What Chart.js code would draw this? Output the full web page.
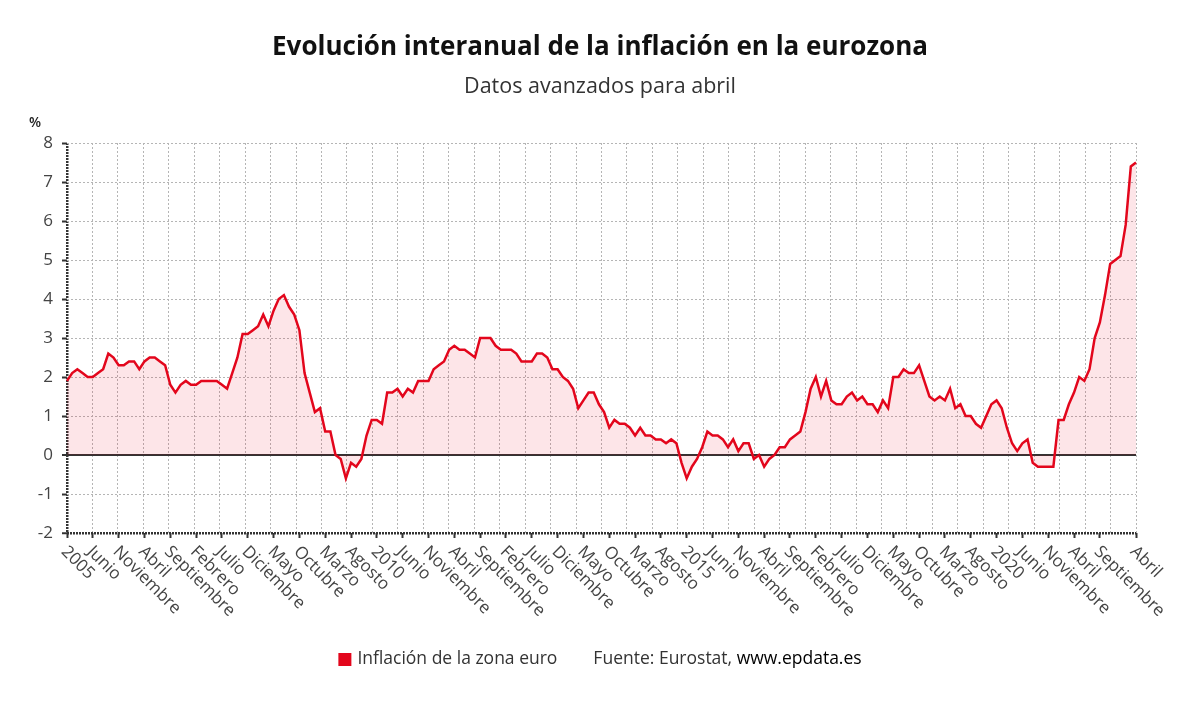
<!DOCTYPE html>
<html lang="es">
<head>
<meta charset="utf-8">
<title>Evolución interanual de la inflación en la eurozona</title>
<script src="https://cdn.jsdelivr.net/npm/chart.js@4.4.1/dist/chart.umd.min.js"></script>
<style>
  html, body { margin: 0; padding: 0; background: #fff; }
  #wrap { width: 1200px; height: 705px; position: relative; }
</style>
</head>
<body>
<div id="wrap"><canvas id="inflacion-chart"></canvas></div>
<script>

const years = [2005, 2006, 2007, 2008, 2009, 2010, 2011, 2012, 2013,
               2014, 2015, 2016, 2017, 2018, 2019, 2020, 2021, 2022]
const monthNames = ["Enero","Febrero","Marzo","Abril","Mayo","Junio","Julio",
                    "Agosto","Septiembre","Octubre","Noviembre","Diciembre"]

// % interanual, enero 2005 - abril 2022 (dato avanzado)
const inflacion = [
    1.9, 2.1, 2.2, 2.1, 2.0, 2.0, 2.1, 2.2, 2.6, 2.5, 2.3, 2.3,   // 2005
    2.4, 2.4, 2.2, 2.4, 2.5, 2.5, 2.4, 2.3, 1.8, 1.6, 1.8, 1.9,   // 2006
    1.8, 1.8, 1.9, 1.9, 1.9, 1.9, 1.8, 1.7, 2.1, 2.5, 3.1, 3.1,   // 2007
    3.2, 3.3, 3.6, 3.3, 3.7, 4.0, 4.1, 3.8, 3.6, 3.2, 2.1, 1.6,   // 2008
    1.1, 1.2, 0.6, 0.6, 0.0, -0.1, -0.6, -0.2, -0.3, -0.1, 0.5, 0.9, // 2009
    0.9, 0.8, 1.6, 1.6, 1.7, 1.5, 1.7, 1.6, 1.9, 1.9, 1.9, 2.2,   // 2010
    2.3, 2.4, 2.7, 2.8, 2.7, 2.7, 2.6, 2.5, 3.0, 3.0, 3.0, 2.8,   // 2011
    2.7, 2.7, 2.7, 2.6, 2.4, 2.4, 2.4, 2.6, 2.6, 2.5, 2.2, 2.2,   // 2012
    2.0, 1.9, 1.7, 1.2, 1.4, 1.6, 1.6, 1.3, 1.1, 0.7, 0.9, 0.8,   // 2013
    0.8, 0.7, 0.5, 0.7, 0.5, 0.5, 0.4, 0.4, 0.3, 0.4, 0.3, -0.2,  // 2014
    -0.6, -0.3, -0.1, 0.2, 0.6, 0.5, 0.5, 0.4, 0.2, 0.4, 0.1, 0.3, // 2015
    0.3, -0.1, 0.0, -0.3, -0.1, 0.0, 0.2, 0.2, 0.4, 0.5, 0.6, 1.1, // 2016
    1.7, 2.0, 1.5, 1.9, 1.4, 1.3, 1.3, 1.5, 1.6, 1.4, 1.5, 1.3,   // 2017
    1.3, 1.1, 1.4, 1.2, 2.0, 2.0, 2.2, 2.1, 2.1, 2.3, 1.9, 1.5,   // 2018
    1.4, 1.5, 1.4, 1.7, 1.2, 1.3, 1.0, 1.0, 0.8, 0.7, 1.0, 1.3,   // 2019
    1.4, 1.2, 0.7, 0.3, 0.1, 0.3, 0.4, -0.2, -0.3, -0.3, -0.3, -0.3, // 2020
    0.9, 0.9, 1.3, 1.6, 2.0, 1.9, 2.2, 3.0, 3.4, 4.1, 4.9, 5.0,   // 2021
    5.1, 5.9, 7.4, 7.5                                            // 2022
]

// etiqueta de cada mes: el año en enero, el nombre del mes en los demás
const labelMonths = []
years.forEach(function (y) {
    monthNames.forEach(function (m, i) {
        if (labelMonths.length < inflacion.length) {
            labelMonths.push(i === 0 ? String(y) : m)
        }
    })
})

const yTicks = [-2, -1, 0, 1, 2, 3, 4, 5, 6, 7, 8]
const tickEvery = 5      // una etiqueta cada cinco meses
const gridColumns = 42   // columnas de la rejilla vertical

const lineRed = "rgb(227,6,28)"

Chart.defaults.font.family = '"Open Sans", "Noto Sans", sans-serif'

// etiquetas del eje x giradas hacia abajo a la derecha
const xLabelsPlugin = {
    id: "xLabels",
    afterDraw: function (chart) {
        const ctx = chart.ctx
        const scale = chart.scales.x
        const bottom = chart.chartArea.bottom
        ctx.save()
        ctx.font = '17px "Open Sans"'
        ctx.fillStyle = "#444"
        ctx.textAlign = "left"
        ctx.textBaseline = "middle"
        scale.ticks.forEach(function (t) {
            const x = scale.getPixelForValue(t.value)
            ctx.save()
            ctx.translate(x - 3, bottom + 16)
            ctx.rotate(Math.PI / 4)
            ctx.fillText(scale.getLabelForValue(t.value), 0, 0)
            ctx.restore()
        })
        ctx.restore()
    }
}

// unidad del eje y, leyenda y fuente
const extrasPlugin = {
    id: "extras",
    afterDraw: function (chart) {
        const ctx = chart.ctx
        ctx.save()
        ctx.font = '600 14px "Open Sans"'
        ctx.fillStyle = "#222"
        ctx.textAlign = "left"
        ctx.textBaseline = "middle"
        ctx.fillText("%", 29, 123)

        ctx.font = '17.5px "Open Sans"'
        const label = chart.data.datasets[0].label
        const src1 = "Fuente: Eurostat, "
        const src2 = "www.epdata.es"
        const wLabel = ctx.measureText(label).width
        const w1 = ctx.measureText(src1).width
        const w2 = ctx.measureText(src2).width
        const total = 13 + 6 + wLabel + 36 + w1 + w2
        let x = 600 - total / 2
        const y = 659
        ctx.fillStyle = lineRed
        ctx.fillRect(x, y - 6, 13, 13)
        x += 19
        ctx.fillStyle = "#333"
        ctx.fillText(label, x, y)
        x += wLabel + 36
        ctx.fillText(src1, x, y)
        x += w1
        ctx.fillStyle = "#000"
        ctx.fillText(src2, x, y)
        ctx.restore()
    }
}

const dataObj = {
    labels: labelMonths,
    datasets: [
        {
            label: "Inflación de la zona euro",
            data: inflacion,
            borderColor: lineRed,
            borderWidth: 2.5,
            backgroundColor: "rgba(232,0,28,0.1)",
            fill: "origin",
            pointRadius: 0,
            tension: 0
        }
    ]
}

new Chart("inflacion-chart", {
    type: "line",
    data: dataObj,
    plugins: [xLabelsPlugin, extrasPlugin],
    options: {
        responsive: true,
        maintainAspectRatio: false,
        animation: false,
        layout: {
            padding: { top: 0, left: 0, right: 0, bottom: 72 }
        },
        plugins: {
            legend: { display: false },
            tooltip: { enabled: false },
            title: {
                display: true,
                text: "Evolución interanual de la inflación en la eurozona",
                color: "#111",
                font: { size: 26, weight: "bold" },
                padding: { top: 32, bottom: 11 }
            },
            subtitle: {
                display: true,
                text: "Datos avanzados para abril",
                color: "#333",
                font: { size: 21.5, weight: "normal" },
                padding: { top: 0, bottom: 43 }
            }
        },
        scales: {
            x: {
                type: "category",
                position: "bottom",
                ticks: { display: false, autoSkip: false },
                afterBuildTicks: function (scale) {
                    const last = inflacion.length - 1
                    scale.ticks = scale.ticks.filter(function (t) {
                        return t.value === last ||
                            (t.value % tickEvery === 0 && last - t.value >= tickEvery)
                    })
                },
                afterFit: function (scale) { scale.height = 100 },
                grid: {
                    display: true,
                    drawOnChartArea: false,
                    drawTicks: true,
                    tickLength: 5,
                    tickColor: "#333",
                    tickWidth: 2,
                    tickBorderDash: []
                },
                border: { display: false }
            },
            xGrid: {
                type: "linear",
                position: "top",
                min: 0,
                max: gridColumns,
                ticks: { display: false },
                afterBuildTicks: function (scale) {
                    const t = []
                    for (let i = 0; i <= gridColumns; i++) t.push({ value: i })
                    scale.ticks = t
                },
                afterFit: function (scale) { scale.height = 0 },
                grid: {
                    drawTicks: false,
                    color: function (c) { return c.tick && c.tick.value === 0 ? "#333" : "#b5b5b5" },
                    lineWidth: function (c) { return c.tick && c.tick.value === 0 ? 2.5 : 1 }
                },
                border: {
                    display: false,
                    dash: function (c) { return c.tick && c.tick.value === 0 ? [2, 1] : [2, 2] }
                }
            },
            y: {
                min: -2,
                max: 8,
                afterBuildTicks: function (scale) {
                    scale.ticks = yTicks.map(function (v) { return { value: v } })
                },
                afterFit: function (scale) { scale.width = 67 },
                ticks: {
                    color: "#444",
                    font: { size: 17 },
                    padding: 9,
                    callback: function (v) { return String(v) }
                },
                grid: {
                    tickLength: 5,
                    tickColor: "#333",
                    tickWidth: 2,
                    tickBorderDash: [],
                    color: function (c) {
                        const v = c.tick ? c.tick.value : null
                        return v === 0 || v === -2 ? "#333" : "#b5b5b5"
                    },
                    lineWidth: function (c) {
                        const v = c.tick ? c.tick.value : null
                        return v === 0 ? 2 : v === -2 ? 2.5 : 1
                    }
                },
                border: {
                    display: false,
                    dash: function (c) {
                        const v = c.tick ? c.tick.value : null
                        return v === 0 ? [] : v === -2 ? [2, 1] : [2, 2]
                    }
                }
            },
            // eje vacío a la derecha: sólo reserva el margen del gráfico
            yRight: {
                position: "right",
                min: -2,
                max: 8,
                ticks: { display: false },
                grid: { display: false },
                border: { display: false },
                afterFit: function (scale) { scale.width = 64 }
            }
        }
    }
})
</script>
</body>
</html>
